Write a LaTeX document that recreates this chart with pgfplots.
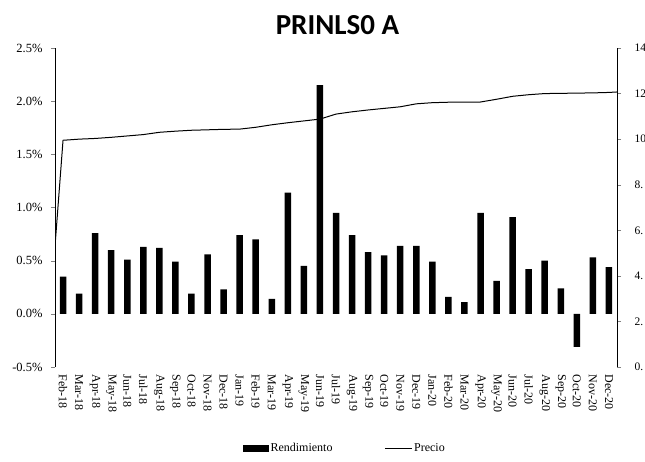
\documentclass[border=0pt]{standalone}
\usepackage{fontspec}
\setmainfont{Liberation Serif}
\newfontfamily\titlefont{Carlito}
\usepackage{pgfplots}
\pgfplotsset{compat=1.18}

\begin{document}
\begin{tikzpicture}[x=1pt,y=1pt]
% rendimiento mensual (eje izquierdo)
\begin{axis}[
    at={(55pt,94pt)}, anchor=south west,
    scale only axis, width=562pt, height=319pt,
    xmin=-0.5, xmax=34.5, ymin=-0.5, ymax=2.5,
    axis y line*=left, axis x line*=bottom,
    x axis line style={draw=none},
    y axis line style={line width=0.9pt},
    tick align=outside, major tick length=4pt,
    x tick style={draw=none},
    xtick={0,...,34},
    xticklabels={Feb-18,Mar-18,Apr-18,May-18,Jun-18,Jul-18,Aug-18,Sep-18,Oct-18,Nov-18,Dec-18,Jan-19,Feb-19,Mar-19,Apr-19,May-19,Jun-19,Jul-19,Aug-19,Sep-19,Oct-19,Nov-19,Dec-19,Jan-20,Feb-20,Mar-20,Apr-20,May-20,Jun-20,Jul-20,Aug-20,Sep-20,Oct-20,Nov-20,Dec-20},
    xticklabel style={rotate=-90, anchor=west, font=\fontsize{12}{13}\selectfont},
    ytick={-0.5,0,0.5,1,1.5,2,2.5},
    yticklabels={-0.5\%,0.0\%,0.5\%,1.0\%,1.5\%,2.0\%,2.5\%},
    yticklabel style={font=\fontsize{12.5}{14}\selectfont, xshift=-5pt},
]
\addplot[ybar, bar width=6.5pt, fill=black, draw=none] coordinates {
    (0,0.35) (1,0.19) (2,0.76) (3,0.60) (4,0.51) (5,0.63) (6,0.62)
    (7,0.49) (8,0.19) (9,0.56) (10,0.23) (11,0.74) (12,0.70) (13,0.14)
    (14,1.14) (15,0.45) (16,2.15) (17,0.95) (18,0.74) (19,0.58) (20,0.55)
    (21,0.64) (22,0.64) (23,0.49) (24,0.16) (25,0.11) (26,0.95) (27,0.31)
    (28,0.91) (29,0.42) (30,0.50) (31,0.24) (32,-0.31) (33,0.53) (34,0.44)
};
\end{axis}
% precio (eje derecho)
\begin{axis}[
    at={(55pt,94pt)}, anchor=south west,
    scale only axis, width=562pt, height=319pt,
    xmin=-0.5, xmax=34.5, ymin=0, ymax=14,
    axis y line*=right, axis x line=none,
    y axis line style={line width=0.9pt},
    tick align=outside, major tick length=4pt,
    ytick={0,2,...,14},
    yticklabels={0.,2.,4.,6.,8.,10,12,14},
    yticklabel style={font=\fontsize{11.5}{13}\selectfont, anchor=west, xshift=10pt},
    legend style={at={(0.516,-0.254)}, anchor=center, draw=none,
        font=\fontsize{12}{14}\selectfont, legend columns=2,
        /tikz/every even column/.append style={column sep=50pt}},
]
\addlegendimage{legend image code/.code={\fill[black] (0pt,-3pt) rectangle (25pt,3pt);}}
\addlegendentry{Rendimiento}
\addplot[black, line width=1pt,
    legend image code/.code={\draw[black, line width=0.6pt] (0pt,0pt) -- (27pt,0pt);}]
    coordinates {
    (-0.5,5.3) (0,9.95) (1,10.0) (2,10.03) (3,10.08) (4,10.14) (5,10.2)
    (6,10.3) (7,10.35) (8,10.39) (9,10.41) (10,10.43) (11,10.44) (12,10.52)
    (13,10.63) (14,10.72) (15,10.8) (16,10.88) (17,11.1) (18,11.2) (19,11.28)
    (20,11.35) (21,11.42) (22,11.55) (23,11.6) (24,11.62) (25,11.62) (26,11.63)
    (27,11.75) (28,11.88) (29,11.95) (30,12.0) (31,12.01) (32,12.02) (33,12.03)
    (34,12.05) (34.5,12.07)
};
\addlegendentry{Precio}
\end{axis}
\node[anchor=base, font=\titlefont\bfseries\fontsize{29}{33}\selectfont] at (337.5,426) {PRINLS0 A};
\pgfresetboundingbox
\useasboundingbox (0,0) rectangle (645,461);
\end{tikzpicture}
\end{document}
